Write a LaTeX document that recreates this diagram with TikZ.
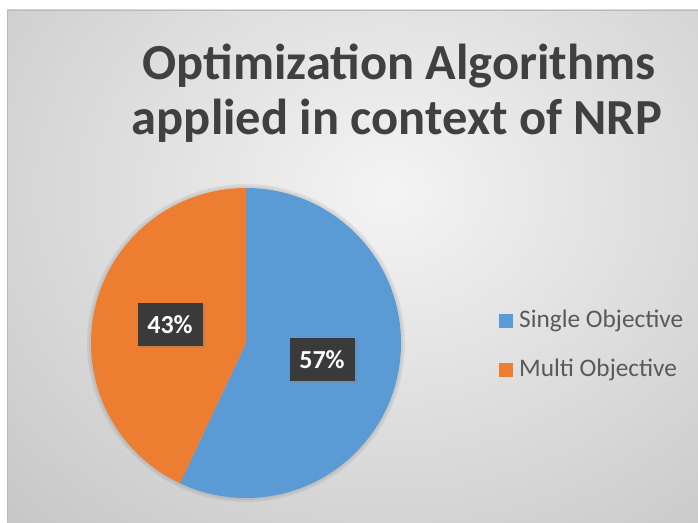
\documentclass[tikz,border=0pt]{standalone}
\usepackage{fontspec}
\setmainfont{Carlito}
\usepackage{xcolor}
\usepackage{tikz}
\usetikzlibrary{positioning,shadows,backgrounds}
\definecolor{pblue}{HTML}{5B9BD5}
\definecolor{porange}{HTML}{ED7D31}
\definecolor{ptitle}{HTML}{404040}
\definecolor{ptext}{HTML}{595959}
\definecolor{plabel}{HTML}{3A3A3A}
\definecolor{pbglight}{HTML}{F4F4F4}
\definecolor{pbgdark}{HTML}{C6C6C6}

\tikzset{
  titletext/.style={font=\bfseries\fontsize{50.5}{55}\selectfont,text=ptitle,inner sep=0pt},
  pctlabel/.style={fill=plabel,text=white,font=\bfseries\fontsize{26}{28}\selectfont,
    minimum width=65pt,minimum height=43pt,inner sep=0pt,
    drop shadow={opacity=0.35,shadow xshift=2pt,shadow yshift=-2pt}},
  legkey/.style={minimum size=14pt,inner sep=0pt},
  legtext/.style={font=\fontsize{25.3}{27}\selectfont,text=ptext,inner sep=0pt}
}

\begin{document}
\begin{tikzpicture}[x=1pt,y=1pt]
      \useasboundingbox (0,0) rectangle (698,522);
      \fill[white] (0,0) rectangle (698,522);

      % Chart area with soft gray gradient
      \begin{scope}
        \clip (7,0) rectangle (698,512);
        \fill[pbgdark] (7,0) rectangle (698,512);
        \shade[inner color=pbglight,outer color=pbgdark] (390,330) ellipse (560 and 470);
      \end{scope}
      \draw[gray!55,thin] (7,0) -- (7,512) -- (698,512);

      % Title
      \node[titletext,anchor=base] (title1) at (399,442) {Optimization Algorithms};
      \node[titletext,anchor=base] (title2) at (397,387) {applied in context of NRP};

      % Pie
      \coordinate (pc) at (246,179);
      \fill[black,opacity=0.06] (pc) circle (159);
      \fill[black,opacity=0.05] (pc) circle (157);
      \fill[pblue] (pc) -- ++(90:155)
        arc[start angle=90,end angle=-115.2,radius=155] -- cycle;
      \fill[porange] (pc) -- ++(90:155)
        arc[start angle=90,end angle=244.8,radius=155] -- cycle;

      % Percent labels
      \node[pctlabel] (multi) at (170,197) {43\%};
      \node[pctlabel] (single) at (322,162) {57\%};

      % Legend
      \node[legkey,fill=pblue] (keysingle) at (506,201) {};
      \node[legkey,fill=porange] (keymulti) at (506,152) {};
      \node[legtext,anchor=base west] (txtsingle) at (519,194) {Single Objective};
      \node[legtext,anchor=base west] (txtmulti) at (519,145) {Multi Objective};
    \end{tikzpicture}
\end{document}
